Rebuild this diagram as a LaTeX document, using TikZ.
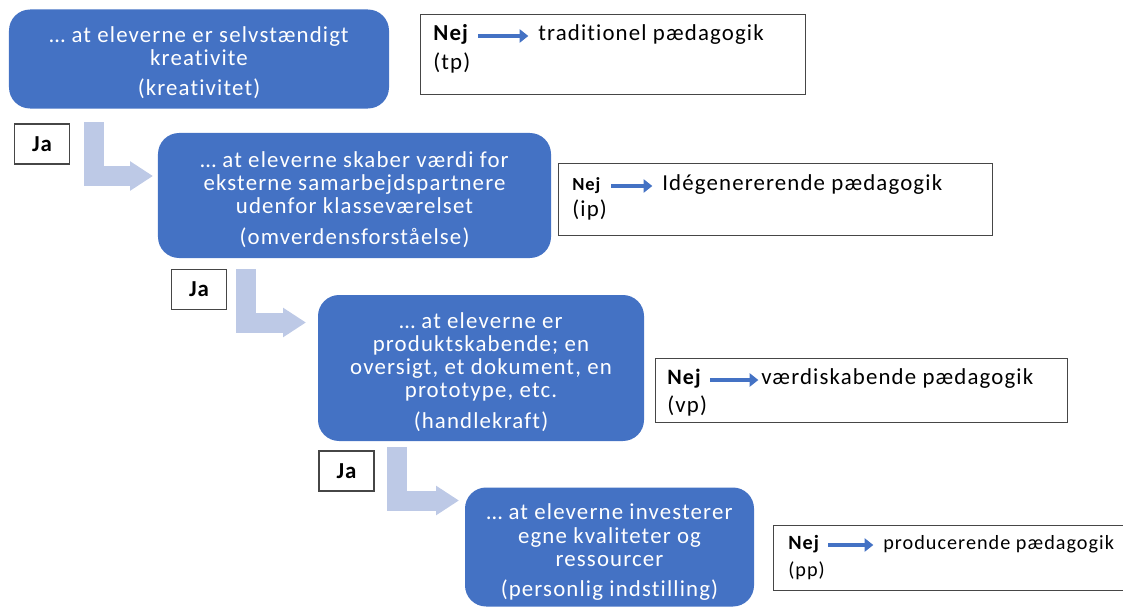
\documentclass[tikz,border=0pt]{standalone}
\usepackage{fontspec}
\setmainfont{Carlito}[LetterSpace=5, Ligatures=NoCommon]
\usetikzlibrary{arrows.meta}

\definecolor{stageblue}{RGB}{68,114,196}
\definecolor{bendblue}{RGB}{189,201,230}
\definecolor{framegray}{RGB}{70,70,70}

\newcommand{\toppad}{\rule{0pt}{13.5pt}}

\tikzset{
  stage/.style={fill=stageblue, rounded corners=12pt, text=white, align=center,
    font=\fontsize{13}{13.2}\selectfont, inner sep=0pt},
  jabox/.style={draw=framegray, line width=0.8pt, minimum width=1.1cm, minimum height=0.8cm,
    inner sep=0pt, font=\bfseries\fontsize{13}{14}\selectfont},
  nejbox/.style={draw=framegray, line width=0.8pt, anchor=north west, inner sep=0pt},
  lbl/.style={anchor=west, inner sep=0pt, text height=1.6ex, text depth=0.45ex,
    font=\fontsize{13}{14}\selectfont},
  nejarrow/.style={draw=stageblue, line width=2.6pt, -{Triangle[width=7.5pt,length=5pt]}},
  bendarrow/.style={draw=bendblue, line width=4mm, line join=miter,
    -{Triangle[width=5.6mm,length=4.6mm]}}
}

\begin{document}
\begin{tikzpicture}[x=0.2mm, y=-0.2mm]
\useasboundingbox (0,0) rectangle (1123,610);
\clip (0,0) rectangle (1123,610);

\node[stage, minimum width=7.6cm, minimum height=1.98cm] (stage1) at (199,59)
  {\toppad\ldots\ at eleverne er selvstændigt\\ kreativite\\[4pt] (kreativitet)};
\node[stage, minimum width=7.86cm, minimum height=2.5cm] (stage2) at (354.5,195.5)
  {\toppad\ldots\ at eleverne skaber værdi for\\ eksterne samarbejdspartnere\\ udenfor klasseværelset\\[4pt] (omverdensforståelse)};
\node[stage, minimum width=6.52cm, minimum height=2.92cm] (stage3) at (481,368)
  {\toppad\ldots\ at eleverne er\\ produktskabende; en\\ oversigt, et dokument, en\\ prototype, etc.\\[4pt] (handlekraft)};
\node[stage, minimum width=5.78cm, minimum height=2.38cm] (stage4) at (609.5,547)
  {\rule{0pt}{15pt}\ldots\ at eleverne investerer\\ egne kvaliteter og\\ ressourcer\\[4pt] (personlig indstilling)};

\foreach \i/\jx/\jy/\bx/\by/\ex/\ey in {1/42/144/93.5/122/153/176,
                                        2/199/289.5/246/269/306/322.5,
                                        3/346.5/471/396.5/447/459/500.5}
{   \node[jabox] (ja\i) at (\jx,\jy) {Ja};
	\coordinate (bend\i a) at (\bx,\by);
	\coordinate (bend\i b) at (\ex,\ey);
	\draw[bendarrow] (bend\i a) |- (bend\i b);
}

\node[nejbox, minimum width=7.7cm, minimum height=1.6cm] (nej1) at (420,14) {};
\node[lbl, font=\bfseries\fontsize{13}{14}\selectfont] (nej1a) at (433,36) {Nej};
\node[lbl] (nej1b) at (538,36) {traditionel pædagogik};
\node[lbl] (nej1c) at (433,65) {(tp)};
\draw[nejarrow, shorten <=5.5pt, shorten >=5.5pt] (nej1a.east) -- (nej1b.west);

\node[nejbox, minimum width=8.68cm, minimum height=1.44cm] (nej2) at (558,163) {};
\node[lbl, font=\bfseries\fontsize{10.5}{12}\selectfont] (nej2a) at (572,186) {Nej};
\node[lbl] (nej2b) at (662,186) {Idégenererende pædagogik};
\node[lbl] (nej2c) at (572,212) {(ip)};
\draw[nejarrow, shorten <=6pt, shorten >=5.5pt] (nej2a.east) -- (nej2b.west);

\node[nejbox, minimum width=8.24cm, minimum height=1.28cm] (nej3) at (655,358) {};
\node[lbl, font=\bfseries\fontsize{12.5}{14}\selectfont] (nej3a) at (667,380) {Nej};
\node[lbl] (nej3b) at (761,380) {værdiskabende pædagogik};
\node[lbl] (nej3c) at (667,408) {(vp)};
\draw[nejarrow, shorten <=5pt, shorten >=1.5pt] (nej3a.east) -- (nej3b.west);

\node[nejbox, minimum width=7.6cm, minimum height=1.3cm] (nej4) at (773,525) {};
\node[lbl, font=\bfseries\fontsize{11.5}{13}\selectfont] (nej4a) at (788,545) {Nej};
\node[lbl, font=\fontsize{11.5}{13}\selectfont] (nej4b) at (883,545) {producerende pædagogik};
\node[lbl, font=\fontsize{11.5}{13}\selectfont] (nej4c) at (788,572) {(pp)};
\draw[nejarrow, shorten <=5pt, shorten >=5.5pt] (nej4a.east) -- (nej4b.west);

\end{tikzpicture}
\end{document}
